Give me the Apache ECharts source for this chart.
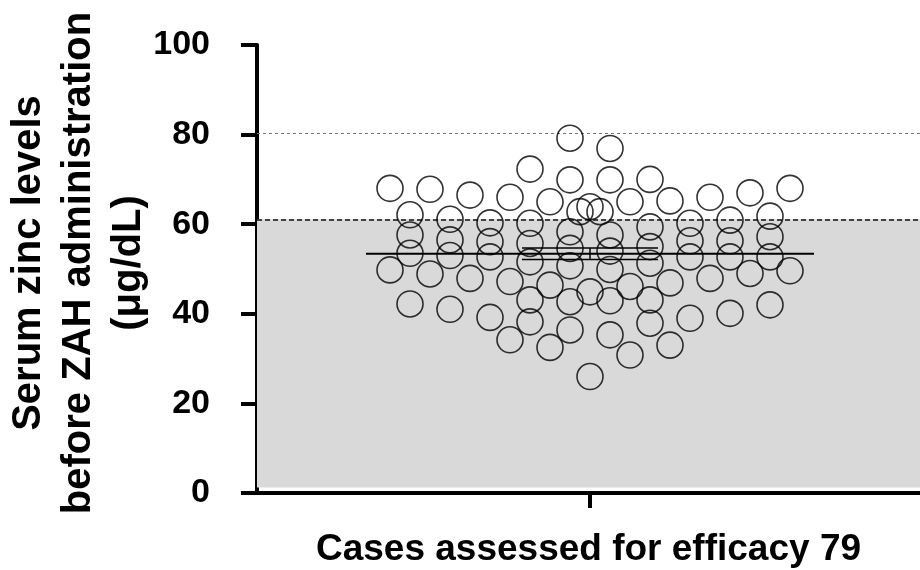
<!DOCTYPE html>
<html>
<head>
<meta charset="utf-8">
<script src="https://cdn.jsdelivr.net/npm/echarts@6/dist/echarts.min.js"></script>
<style>
html,body{margin:0;padding:0;background:#fff;}
#chart{width:920px;height:570px;}
</style>
</head>
<body>
<div id="chart"></div>
<script>
// Serum zinc (µg/dL), one value per case, and its column slot in the dot plot
const zinc = [
  68.0, 49.8,
  62.1, 57.6, 53.5, 42.2,
  67.8, 48.9,
  61.1, 56.5, 53.0, 41.0,
  66.5, 47.9,
  60.3, 56.1, 52.7, 39.2,
  66.0, 47.2, 34.2,
  72.3, 60.2, 55.7, 51.6, 43.1, 38.2,
  65.0, 46.4, 32.5,
  79.2, 69.9, 58.3, 54.6, 50.7, 42.7, 36.4,
  62.8,
  63.9, 44.9, 26.0,
  62.8,
  76.9, 69.9, 57.6, 54.0, 49.9, 42.9, 35.3,
  65.0, 46.1, 30.8,
  70.0, 59.4, 55.0, 51.3, 43.1, 37.9,
  65.2, 46.9, 33.0,
  60.2, 56.3, 52.7, 39.0,
  66.0, 47.9,
  60.9, 56.3, 52.7, 40.1,
  67.0, 49.0,
  61.8, 57.2, 52.7, 42.0,
  68.0, 49.6
];
const slot = [
  -10, -10,
  -9, -9, -9, -9,
  -8, -8,
  -7, -7, -7, -7,
  -6, -6,
  -5, -5, -5, -5,
  -4, -4, -4,
  -3, -3, -3, -3, -3, -3,
  -2, -2, -2,
  -1, -1, -1, -1, -1, -1, -1,
  -0.5,
  0, 0, 0,
  0.5,
  1, 1, 1, 1, 1, 1, 1,
  2, 2, 2,
  3, 3, 3, 3, 3, 3,
  4, 4, 4,
  5, 5, 5, 5,
  6, 6,
  7, 7, 7, 7,
  8, 8,
  9, 9, 9, 9,
  10, 10
];
const yTicks = [0, 20, 40, 60, 80, 100];
const lowerLimit = [61.1];   // dashed line / top of shaded zone
const upperLimit = [80.4];   // dotted line
const shadedBottom = [1.2];
const categoryLabel = ['Cases assessed for efficacy 79'];
const yTitle = ['Serum zinc levels', 'before ZAH administration', '(\u03bcg/dL)'];

const n = zinc.length;
const mean = zinc.reduce((a, b) => a + b, 0) / n;
const sd = Math.sqrt(zinc.reduce((a, b) => a + (b - mean) * (b - mean), 0) / (n - 1));
const sem = sd / Math.sqrt(n);

const points = zinc.map((v, i) => [slot[i], v]);
const FONT = '"Liberation Sans", Arial, sans-serif';

const chart = echarts.init(document.getElementById('chart'), null, {renderer: 'canvas'});
chart.setOption({
  animation: false,
  backgroundColor: '#ffffff',
  grid: {left: 257, right: 0, top: 45, bottom: 77, outerBoundsMode: 'none'},
  xAxis: {
    type: 'value',
    min: -16.65,
    max: 16.5,
    name: categoryLabel[0],
    nameLocation: 'middle',
    nameGap: 38,
    nameMoveOverlap: false,
    nameTextStyle: {fontFamily: FONT, fontWeight: 'bold', fontSize: 37, color: '#000'},
    axisLine: {show: true, onZero: false, lineStyle: {color: '#000', width: 4}},
    axisTick: {show: true, customValues: [0], length: 15, lineStyle: {color: '#000', width: 4}},
    axisLabel: {show: false},
    splitLine: {show: false}
  },
  yAxis: {
    type: 'value',
    min: yTicks[0],
    max: yTicks[yTicks.length - 1],
    interval: 20,
    name: yTitle.join('\n'),
    nameLocation: 'middle',
    nameRotate: 90,
    nameGap: 103,
    nameMoveOverlap: false,
    nameTextStyle: {fontFamily: FONT, fontWeight: 'bold', fontSize: 40, lineHeight: 50, color: '#000', align: 'center', padding: [0, 0, 0, 12]},
    axisLine: {show: true, onZero: false, lineStyle: {color: '#000', width: 4}},
    axisTick: {show: true, length: 16, lineStyle: {color: '#000', width: 4}},
    axisLabel: {margin: 47, fontFamily: FONT, fontWeight: 'bold', fontSize: 34, color: '#000'},
    splitLine: {show: false}
  },
  series: [
    {
      type: 'scatter',
      data: points,
      symbol: 'circle',
      symbolSize: 26,
      itemStyle: {color: 'rgba(0,0,0,0)', borderColor: '#000', borderWidth: 1.6},
      z: 5,
      markArea: {
        silent: true,
        itemStyle: {color: '#d9d9d9'},
        data: [[{yAxis: shadedBottom[0]}, {yAxis: lowerLimit[0]}]],
        z: 1
      },
      markLine: {
        silent: true,
        symbol: ['none', 'none'],
        label: {show: false},
        data: [
          {yAxis: lowerLimit[0], lineStyle: {color: '#111', type: [5, 3], width: 1.6}},
          {yAxis: upperLimit[0], lineStyle: {color: '#777', type: [3, 3], width: 1}}
        ]
      }
    },
    {
      type: 'custom',
      data: [[0, mean, sem]],
      z: 6,
      silent: true,
      renderItem: function (params, api) {
        const c = api.coord([api.value(0), api.value(1)]);
        const hi = api.coord([api.value(0), api.value(1) + api.value(2)]);
        const lo = api.coord([api.value(0), api.value(1) - api.value(2)]);
        const MEAN_HALF = 224, CAP_HALF = 68;
        const st = {stroke: '#000', lineWidth: 1.5};
        return {
          type: 'group',
          children: [
            {type: 'line', shape: {x1: c[0] - MEAN_HALF, y1: c[1], x2: c[0] + MEAN_HALF, y2: c[1]}, style: {stroke: '#000', lineWidth: 2}},
            {type: 'line', shape: {x1: c[0] - CAP_HALF, y1: hi[1], x2: c[0] + CAP_HALF, y2: hi[1]}, style: st},
            {type: 'line', shape: {x1: c[0] - CAP_HALF, y1: lo[1], x2: c[0] + CAP_HALF, y2: lo[1]}, style: st},
            {type: 'line', shape: {x1: c[0], y1: hi[1], x2: c[0], y2: lo[1]}, style: st}
          ]
        };
      }
    }
  ]
});
</script>
</body>
</html>
